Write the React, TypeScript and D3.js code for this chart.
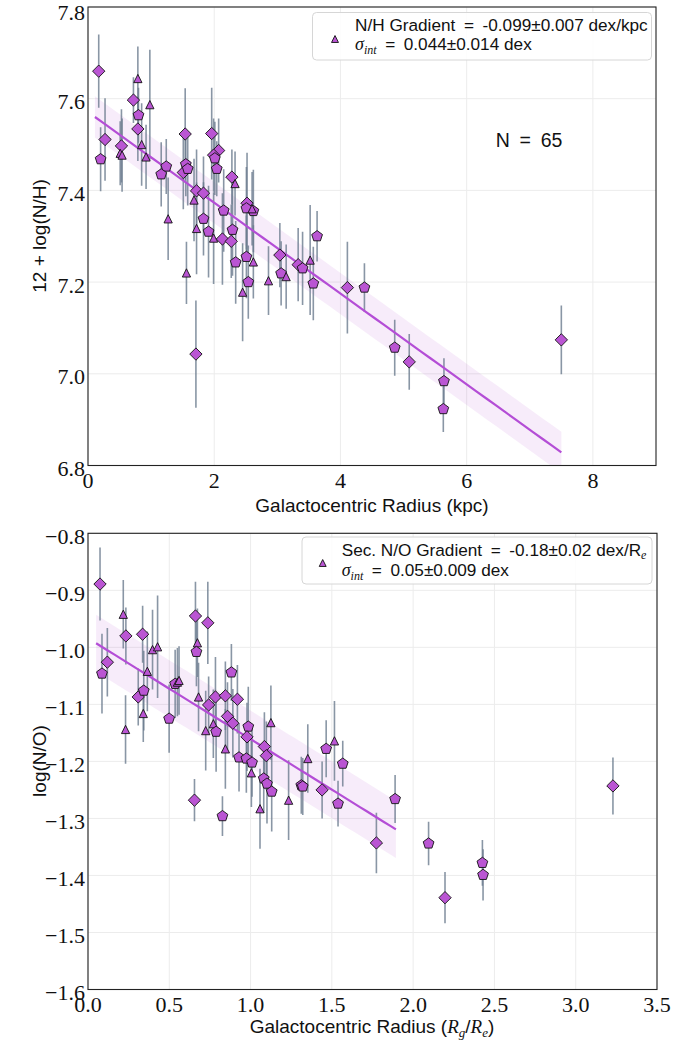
import React from 'react';
import * as d3 from 'd3';

// ---------- N/H panel data ----------
const nhRadius = [0.17, 0.20, 0.27, 0.53, 0.51, 0.54, 0.72, 0.79, 0.80, 0.79, 0.85, 0.92, 0.98, 1.24, 1.16, 1.27, 1.54, 1.55, 1.51, 1.96, 2.07, 1.99, 2.04, 2.28, 2.33, 1.72, 1.68, 1.83, 1.83, 1.72, 1.91, 1.99, 2.13, 2.27, 2.15, 2.29, 2.52, 2.62, 2.51, 1.56, 2.34, 2.51, 2.62, 2.54, 2.45, 2.86, 3.04, 3.06, 3.14, 3.33, 3.40, 3.52, 3.63, 3.57, 1.71, 4.11, 4.38, 4.86, 5.09, 5.64, 5.63, 7.50, 1.58, 2.01, 2.60];
const nhAbund = [7.660, 7.468, 7.511, 7.497, 7.481, 7.477, 7.597, 7.644, 7.564, 7.534, 7.500, 7.473, 7.587, 7.452, 7.435, 7.338, 7.523, 7.457, 7.439, 7.524, 7.487, 7.477, 7.447, 7.429, 7.415, 7.399, 7.379, 7.394, 7.338, 7.317, 7.310, 7.296, 7.294, 7.289, 7.356, 7.314, 7.372, 7.355, 7.361, 7.220, 7.243, 7.255, 7.244, 7.200, 7.178, 7.203, 7.259, 7.219, 7.212, 7.238, 7.230, 7.248, 7.300, 7.197, 7.043, 7.188, 7.188, 7.057, 7.026, 6.984, 6.923, 7.074, 7.447, 7.470, 7.360];
const nhErr = [0.08, 0.07, 0.09, 0.08, 0.07, 0.08, 0.05, 0.07, 0.06, 0.07, 0.09, 0.07, 0.12, 0.06, 0.07, 0.09, 0.10, 0.07, 0.08, 0.10, 0.07, 0.08, 0.06, 0.06, 0.07, 0.09, 0.09, 0.08, 0.08, 0.10, 0.10, 0.10, 0.10, 0.08, 0.09, 0.10, 0.11, 0.09, 0.09, 0.068, 0.09, 0.09, 0.08, 0.08, 0.107, 0.075, 0.07, 0.07, 0.07, 0.08, 0.08, 0.12, 0.055, 0.08, 0.117, 0.10, 0.053, 0.061, 0.061, 0.05, 0.05, 0.075, 0.08, 0.08, 0.08];
const nhMarker = ['D', 'P', 'D', 'D', 'T', 'T', 'D', 'T', 'P', 'D', 'T', 'T', 'T', 'P', 'P', 'T', 'D', 'P', 'D', 'D', 'D', 'D', 'P', 'D', 'T', 'D', 'T', 'D', 'P', 'T', 'P', 'T', 'D', 'D', 'P', 'P', 'D', 'P', 'P', 'T', 'P', 'P', 'T', 'P', 'T', 'T', 'D', 'P', 'T', 'D', 'P', 'T', 'P', 'P', 'D', 'D', 'P', 'P', 'D', 'P', 'P', 'D', 'P', 'P', 'T'];
const nhTicksX = [0, 2, 4, 6, 8];
const nhTicksY = [6.8, 7.0, 7.2, 7.4, 7.6, 7.8];
const nhSlope = -0.099;
const nhIntercept = 7.571;
const nhSigma = 0.045;
const nhFitRange = [0.11, 7.5];

// ---------- N/O panel data ----------
const noRadius = [0.074, 0.086, 0.119, 0.217, 0.233, 0.336, 0.397, 0.428, 0.365, 0.309, 0.343, 0.340, 0.231, 0.499, 0.536, 0.550, 0.661, 0.737, 0.673, 0.667, 0.680, 0.742, 0.784, 0.845, 0.919, 0.882, 0.858, 0.891, 0.986, 1.125, 0.771, 0.724, 0.788, 0.978, 1.085, 1.097, 0.845, 0.929, 0.974, 1.009, 1.005, 1.081, 1.101, 1.130, 1.058, 0.655, 0.827, 1.234, 1.312, 1.321, 1.352, 1.440, 1.465, 1.516, 1.567, 1.538, 1.774, 1.889, 2.095, 2.196, 2.426, 2.430, 3.229, 0.560];
const noRatio = [-0.889, -1.046, -1.026, -0.942, -0.980, -0.977, -1.004, -0.999, -1.042, -1.087, -1.076, -1.116, -1.144, -1.125, -1.064, -1.061, -0.945, -0.957, -0.992, -1.008, -1.087, -1.101, -1.087, -1.085, -1.091, -1.044, -1.121, -1.133, -1.139, -1.132, -1.134, -1.146, -1.148, -1.157, -1.174, -1.190, -1.178, -1.193, -1.195, -1.202, -1.220, -1.230, -1.239, -1.253, -1.283, -1.268, -1.296, -1.268, -1.242, -1.244, -1.195, -1.250, -1.178, -1.164, -1.204, -1.274, -1.343, -1.266, -1.344, -1.439, -1.378, -1.399, -1.243, -1.058];
const noErr = [0.064, 0.07, 0.06, 0.06, 0.05, 0.05, 0.07, 0.09, 0.07, 0.05, 0.07, 0.05, 0.06, 0.06, 0.06, 0.06, 0.06, 0.072, 0.06, 0.06, 0.06, 0.05, 0.07, 0.06, 0.06, 0.05, 0.06, 0.06, 0.07, 0.065, 0.06, 0.07, 0.07, 0.06, 0.06, 0.06, 0.07, 0.06, 0.06, 0.06, 0.06, 0.06, 0.07, 0.07, 0.07, 0.037, 0.035, 0.07, 0.05, 0.05, 0.06, 0.05, 0.05, 0.07, 0.04, 0.04, 0.053, 0.042, 0.038, 0.045, 0.04, 0.045, 0.05, 0.06];
const noMarker = ['D', 'P', 'D', 'T', 'D', 'D', 'T', 'T', 'T', 'D', 'P', 'T', 'T', 'P', 'P', 'T', 'D', 'D', 'T', 'P', 'T', 'D', 'D', 'D', 'D', 'P', 'D', 'D', 'P', 'T', 'T', 'T', 'P', 'D', 'D', 'D', 'T', 'P', 'P', 'P', 'T', 'P', 'P', 'P', 'T', 'D', 'P', 'T', 'P', 'P', 'T', 'D', 'P', 'T', 'P', 'P', 'D', 'P', 'P', 'D', 'P', 'P', 'D', 'T'];
const noTicksX = [0, 0.5, 1.0, 1.5, 2.0, 2.5, 3.0, 3.5];
const noTicksY = [-1.6, -1.5, -1.4, -1.3, -1.2, -1.1, -1.0, -0.9, -0.8];
const noSlope = -0.177;
const noIntercept = -0.984;
const noSigma = 0.05;
const noFitRange = [0.05, 1.894];

const FILL = '#BA55D3';
const LINE = '#B44ED6';
const BAND = 'rgba(186,85,211,0.11)';
const ERRC = 'rgba(108,124,142,0.8)';
const GRID = '#ececec';
const SERIF = "'Liberation Serif', 'DejaVu Serif', serif";
const SANS = "'Liberation Sans', 'DejaVu Sans', sans-serif";
const SP = '\u2002';

const diamondType = {
  draw(ctx: any, size: number) {
    const r = Math.sqrt(size);
    ctx.moveTo(0, -r); ctx.lineTo(r, 0); ctx.lineTo(0, r); ctx.lineTo(-r, 0); ctx.closePath();
  },
};
const pentagonType = {
  draw(ctx: any, size: number) {
    const r = Math.sqrt(size);
    for (let k = 0; k < 5; k++) {
      const a = -Math.PI / 2 + (k * 2 * Math.PI) / 5;
      const x = r * Math.cos(a), y = r * Math.sin(a);
      if (k === 0) ctx.moveTo(x, y); else ctx.lineTo(x, y);
    }
    ctx.closePath();
  },
};
const triangleType = {
  draw(ctx: any, size: number) {
    const r = Math.sqrt(size);
    ctx.moveTo(0, -r); ctx.lineTo(r, r); ctx.lineTo(-r, r); ctx.closePath();
  },
};
const markerPath: Record<string, string> = {
  D: d3.symbol(diamondType as any, 38)() as string,
  P: d3.symbol(pentagonType as any, 32)() as string,
  T: d3.symbol(triangleType as any, 17)() as string,
};
const legendTri = d3.symbol(triangleType as any, 12)() as string;

function fmtTick(v: number, dec: number) {
  const s = Math.abs(v).toFixed(dec);
  return (v < 0 ? '\u2212' : '') + s;
}

interface PanelProps {
  xs: number[]; ys: number[]; errs: number[]; marks: string[];
  xDomain: [number, number]; yDomain: [number, number];
  xTicks: number[]; yTicks: number[]; xDec: number; yDec: number;
  left: number; right: number; top: number; bottom: number;
  slope: number; intercept: number; sigma: number; fitRange: number[];
}

function Panel(p: PanelProps) {
  const x = d3.scaleLinear().domain(p.xDomain).range([p.left, p.right]);
  const y = d3.scaleLinear().domain(p.yDomain).range([p.bottom, p.top]);
  const fitXs = d3.range(0, 51).map((i) => p.fitRange[0] + ((p.fitRange[1] - p.fitRange[0]) * i) / 50);
  const area = d3.area<number>()
    .x((d) => x(d))
    .y0((d) => y(p.intercept + p.slope * d - p.sigma))
    .y1((d) => y(p.intercept + p.slope * d + p.sigma));
  const line = d3.line<number>().x((d) => x(d)).y((d) => y(p.intercept + p.slope * d));
  const clipId = 'clip' + Math.round(p.top);
  return (
    <g>
      <defs>
        <clipPath id={clipId}>
          <rect x={p.left} y={p.top} width={p.right - p.left} height={p.bottom - p.top} />
        </clipPath>
      </defs>
      {p.xTicks.map((t) => (
        <line key={'gx' + t} x1={x(t)} x2={x(t)} y1={p.top} y2={p.bottom} stroke={GRID} strokeWidth={1} />
      ))}
      {p.yTicks.map((t) => (
        <line key={'gy' + t} x1={p.left} x2={p.right} y1={y(t)} y2={y(t)} stroke={GRID} strokeWidth={1} />
      ))}
      <g clipPath={`url(#${clipId})`}>
        <path d={area(fitXs) as string} fill={BAND} stroke="none" />
        {p.xs.map((v, i) => (
          <line key={'e' + i} x1={x(v)} x2={x(v)} y1={y(p.ys[i] - p.errs[i])} y2={y(p.ys[i] + p.errs[i])}
            stroke={ERRC} strokeWidth={1.6} />
        ))}
        <path d={line(fitXs) as string} fill="none" stroke={LINE} strokeWidth={2.2} />
        {p.xs.map((v, i) => (
          <path key={'m' + i} d={markerPath[p.marks[i]]} transform={`translate(${x(v)},${y(p.ys[i])})`}
            fill={FILL} stroke="#111" strokeWidth={0.9} strokeLinejoin="miter" />
        ))}
      </g>
      <rect x={p.left} y={p.top} width={p.right - p.left} height={p.bottom - p.top} fill="none" stroke="#222" strokeWidth={1.1} />
      {p.xTicks.map((t) => (
        <text key={'tx' + t} x={x(t)} y={p.bottom + 22} textAnchor="middle" fontFamily={SERIF} fontSize={22} fill="#111">
          {fmtTick(t, p.xDec)}
        </text>
      ))}
      {p.yTicks.map((t) => (
        <text key={'ty' + t} x={p.left - 3} y={Math.max(y(t) + 3, 12)} textAnchor="end" dominantBaseline="central" fontFamily={SERIF} fontSize={22} fill="#111">
          {fmtTick(t, p.yDec)}
        </text>
      ))}
    </g>
  );
}

export default function App() {
  return (
    <svg width={697} height={1042} style={{ position: 'absolute', left: 0, top: 0, background: '#fff' }}>
      <rect x={0} y={0} width={697} height={1042} fill="#fff" />
      <Panel xs={nhRadius} ys={nhAbund} errs={nhErr} marks={nhMarker}
        xDomain={[0, 9]} yDomain={[6.8, 7.8]} xTicks={nhTicksX} yTicks={nhTicksY} xDec={0} yDec={1}
        left={88} right={656} top={7} bottom={465.5}
        slope={nhSlope} intercept={nhIntercept} sigma={nhSigma} fitRange={nhFitRange} />
      <Panel xs={noRadius} ys={noRatio} errs={noErr} marks={noMarker}
        xDomain={[0, 3.5]} yDomain={[-1.6, -0.8]} xTicks={noTicksX} yTicks={noTicksY} xDec={1} yDec={1}
        left={88} right={657} top={533.3} bottom={989.5}
        slope={noSlope} intercept={noIntercept} sigma={noSigma} fitRange={noFitRange} />

      {/* top legend */}
      <rect x={312.5} y={12.5} width={339} height={47.5} rx={4} fill="#fff" fillOpacity={0.85} stroke="#d6d6d6" strokeWidth={1} />
      <path d={legendTri} transform="translate(335,39)" fill={FILL} stroke="#111" strokeWidth={0.9} />
      <text x={355} y={31} fontFamily={SANS} fontSize={17.2} fill="#111">{`N/H Gradient${SP}=${SP}-0.099±0.007 dex/kpc`}</text>
      <text x={355} y={50} fontFamily={SANS} fontSize={17.2} fill="#111">
        <tspan fontFamily={SERIF} fontStyle="italic" fontSize={18}>σ</tspan>
        <tspan fontFamily={SERIF} fontStyle="italic" fontSize={12} dy={4}>int</tspan>
        <tspan dy={-4}>{`${SP}=${SP}0.044±0.014 dex`}</tspan>
      </text>
      <text x={495.7} y={146.5} fontFamily={SANS} fontSize={19.5} fill="#111">{`N${SP}=${SP}65`}</text>

      {/* bottom legend */}
      <rect x={302} y={537} width={350} height={47} rx={4} fill="#fff" fillOpacity={0.85} stroke="#d6d6d6" strokeWidth={1} />
      <path d={legendTri} transform="translate(322.7,563)" fill={FILL} stroke="#111" strokeWidth={0.9} />
      <text x={341.7} y={556} fontFamily={SANS} fontSize={17.2} fill="#111">
        {`Sec. N/O Gradient${SP}=${SP}-0.18±0.02 dex/R`}
        <tspan fontFamily={SERIF} fontStyle="italic" fontSize={12} dy={3}>e</tspan>
      </text>
      <text x={341.7} y={576} fontFamily={SANS} fontSize={17.2} fill="#111">
        <tspan fontFamily={SERIF} fontStyle="italic" fontSize={18}>σ</tspan>
        <tspan fontFamily={SERIF} fontStyle="italic" fontSize={12} dy={4}>int</tspan>
        <tspan dy={-4}>{`${SP}=${SP}0.05±0.009 dex`}</tspan>
      </text>

      {/* axis labels */}
      <text x={372} y={512} textAnchor="middle" fontFamily={SANS} fontSize={19} fill="#111">Galactocentric Radius (kpc)</text>
      <text x={372} y={1033} textAnchor="middle" fontFamily={SANS} fontSize={19} fill="#111">
        Galactocentric Radius (
        <tspan fontFamily={SERIF} fontStyle="italic">R</tspan>
        <tspan fontFamily={SERIF} fontStyle="italic" fontSize={13} dy={4}>g</tspan>
        <tspan dy={-4}>/</tspan>
        <tspan fontFamily={SERIF} fontStyle="italic">R</tspan>
        <tspan fontFamily={SERIF} fontStyle="italic" fontSize={13} dy={4}>e</tspan>
        <tspan dy={-4}>)</tspan>
      </text>
      <text transform="translate(39,236) rotate(-90)" textAnchor="middle" dominantBaseline="central" fontFamily={SANS} fontSize={19} fill="#111">12 + log(N/H)</text>
      <text transform="translate(39,761) rotate(-90)" textAnchor="middle" dominantBaseline="central" fontFamily={SANS} fontSize={19} fill="#111">log(N/O)</text>
    </svg>
  );
}
